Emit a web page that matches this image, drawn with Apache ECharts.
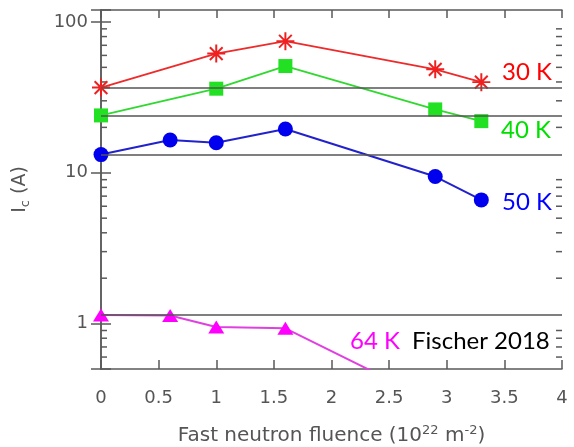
<!DOCTYPE html>
<html>
<head>
<meta charset="utf-8">
<script src="https://cdn.jsdelivr.net/npm/echarts@6/dist/echarts.min.js"></script>
<style>
  html, body { margin: 0; padding: 0; background: #fff; }
  #chart { width: 574px; height: 447px; }
</style>
</head>
<body>
<div id="chart"></div>
<script>
// 数据：各温度下的临界电流 Ic (A) 与快中子注量 (10^22 m^-2)
const fluence30 = [0, 1, 1.6, 2.9, 3.3];
const ic30 = [36.7, 61.7, 74.5, 48.5, 39.9];

const fluence40 = [0, 1, 1.6, 2.9, 3.3];
const ic40 = [24.0, 36.1, 51.0, 26.3, 22.0];

const fluence50 = [0, 0.6, 1, 1.6, 2.9, 3.3];
const ic50 = [13.2, 16.5, 15.8, 19.5, 9.44, 6.61];

const fluence64 = [0, 0.6, 1, 1.6, 2.9];
const ic64 = [1.14, 1.13, 0.95, 0.93, 0.30];

// 对数轴的次刻度 (2..9 x 10^k)
const minorTickValues = [0.6, 0.7, 0.8, 0.9, 2, 3, 4, 5, 6, 7, 8, 9, 20, 30, 40, 50, 60, 70, 80, 90];

const frameColor = '#5a5a5a';
const labelColor = '#555';

// 星号符号：四条细长矩形叠加
const asteriskPath = (() => {
  const L = 10, w = 1.1;
  let d = '';
  [0, 45, 90, 135].forEach(a => {
    const r = a * Math.PI / 180, c = Math.cos(r), s = Math.sin(r);
    const pts = [[-L, -w], [L, -w], [L, w], [-L, w]].map(([x, y]) =>
      [(x * c - y * s).toFixed(3), (x * s + y * c).toFixed(3)]);
    d += 'M' + pts.map(p => p.join(' ')).join(' L') + ' Z ';
  });
  return 'path://' + d;
})();

const zip = (xs, ys) => xs.map((x, i) => [x, ys[i]]);

const refLine = (v) => ({
  symbol: 'none',
  silent: true,
  label: { show: false },
  lineStyle: { color: '#555', width: 1.6, type: 'solid' },
  data: [{ yAxis: v }]
});

const chart = echarts.init(document.getElementById('chart'));

const axisFont = { fontFamily: 'DejaVu Sans', fontSize: 18, color: labelColor };

const yLabel = (v) => {
  const l = Math.log10(v);
  return Math.abs(l - Math.round(l)) < 1e-6 ? String(Math.round(v)) : '';
};

const option = {
  animation: false,
  grid: { left: 101, right: 12, top: 10, bottom: 78, outerBoundsMode: 'none', containLabel: false },
  xAxis: [{
    type: 'value',
    min: 0, max: 4, interval: 0.5,
    position: 'bottom',
    axisLine: { show: true, lineStyle: { color: frameColor, width: 1.5 } },
    axisTick: { show: true, inside: true, length: 9, lineStyle: { color: frameColor, width: 1.5 } },
    axisLabel: { ...axisFont, margin: 20 },
    splitLine: { show: false },
    name: 'Fast neutron fluence (10{sup|22} m{sup|-2})',
    nameLocation: 'middle',
    nameGap: 55,
    nameTextStyle: {
      fontFamily: 'DejaVu Sans', fontSize: 20, color: labelColor,
      rich: { sup: { fontFamily: 'DejaVu Sans', fontSize: 13, color: labelColor, verticalAlign: 'top', lineHeight: 24 } }
    }
  }, {
    type: 'value',
    min: 0, max: 4, interval: 0.5,
    position: 'top',
    axisLine: { show: true, lineStyle: { color: frameColor, width: 1.5 } },
    axisTick: { show: true, inside: true, length: 8, lineStyle: { color: frameColor, width: 1.5 } },
    axisLabel: { show: false },
    splitLine: { show: false }
  }],
  yAxis: [{
    type: 'log',
    logBase: 10,
    min: 0.5, max: 120,
    position: 'left',
    axisLine: { show: true, lineStyle: { color: frameColor, width: 1.5 } },
    axisTick: { show: true, inside: true, length: 10, lineStyle: { color: frameColor, width: 1.5 } },
    axisLabel: { ...axisFont, margin: 13, formatter: yLabel },
    splitLine: { show: false },
    name: 'I{sub|c} (A)',
    nameLocation: 'middle',
    nameGap: 69,
    nameRotate: 90,
    nameTextStyle: {
      fontFamily: 'DejaVu Sans', fontSize: 19, color: labelColor,
      rich: { sub: { fontFamily: 'DejaVu Sans', fontSize: 13, color: labelColor, verticalAlign: 'bottom', lineHeight: 24 } }
    }
  }, {
    type: 'log',
    logBase: 10,
    min: 0.5, max: 120,
    position: 'right',
    axisLine: { show: true, lineStyle: { color: frameColor, width: 1.5 } },
    axisTick: { show: true, inside: true, length: 10, lineStyle: { color: frameColor, width: 1.5 } },
    axisLabel: { show: false },
    splitLine: { show: false }
  }],
  series: [
    { // 次刻度线（左右两侧）
      type: 'custom',
      xAxisIndex: 0, yAxisIndex: 0,
      silent: true,
      clip: false,
      z: 1,
      data: minorTickValues.map(v => [0, v]),
      renderItem: (params, api) => {
        const v = api.value(1);
        const p = api.coord([0, v]);
        const q = api.coord([4, v]);
        const style = { stroke: frameColor, lineWidth: 1.5 };
        return {
          type: 'group',
          children: [
            { type: 'line', shape: { x1: p[0], y1: p[1], x2: p[0] + 6, y2: p[1] }, style },
            { type: 'line', shape: { x1: q[0] - 6, y1: q[1], x2: q[0], y2: q[1] }, style }
          ]
        };
      }
    },
    {
      name: '30 K', type: 'line',
      data: zip(fluence30, ic30),
      symbol: asteriskPath, symbolSize: 18,
      itemStyle: { color: '#ee2020' },
      lineStyle: { color: '#ee2a2a', width: 1.8 },
      markLine: refLine(ic30[0])
    },
    {
      name: '40 K', type: 'line',
      data: zip(fluence40, ic40),
      symbol: 'rect', symbolSize: 14,
      itemStyle: { color: '#22e022' },
      lineStyle: { color: '#30d830', width: 1.8 },
      markLine: refLine(ic40[0])
    },
    {
      name: '50 K', type: 'line',
      data: zip(fluence50, ic50),
      symbol: 'circle', symbolSize: 15,
      itemStyle: { color: '#0000ee' },
      lineStyle: { color: '#2222cc', width: 2 },
      markLine: refLine(ic50[0])
    },
    {
      name: '64 K', type: 'line',
      data: zip(fluence64, ic64),
      symbol: 'triangle', symbolSize: [16, 13],
      itemStyle: { color: '#ff00ff' },
      lineStyle: { color: '#e040e0', width: 2 },
      markLine: refLine(ic64[0])
    }
  ],
  graphic: [
    { type: 'text', x: 502, y: 72, style: { text: '30 K', fill: '#ff0000', font: '24px Lato', verticalAlign: 'middle' } },
    { type: 'text', x: 501, y: 130, style: { text: '40 K', fill: '#00e000', font: '24px Lato', verticalAlign: 'middle' } },
    { type: 'text', x: 502, y: 202, style: { text: '50 K', fill: '#0000ff', font: '24px Lato', verticalAlign: 'middle' } },
    { type: 'text', x: 350, y: 341, style: { text: '64 K', fill: '#ff00ff', font: '24px Lato', verticalAlign: 'middle' } },
    { type: 'text', x: 412, y: 341, style: { text: 'Fischer 2018', fill: '#000', font: '24px Lato', verticalAlign: 'middle' } }
  ]
};

chart.setOption(option);
</script>
</body>
</html>
